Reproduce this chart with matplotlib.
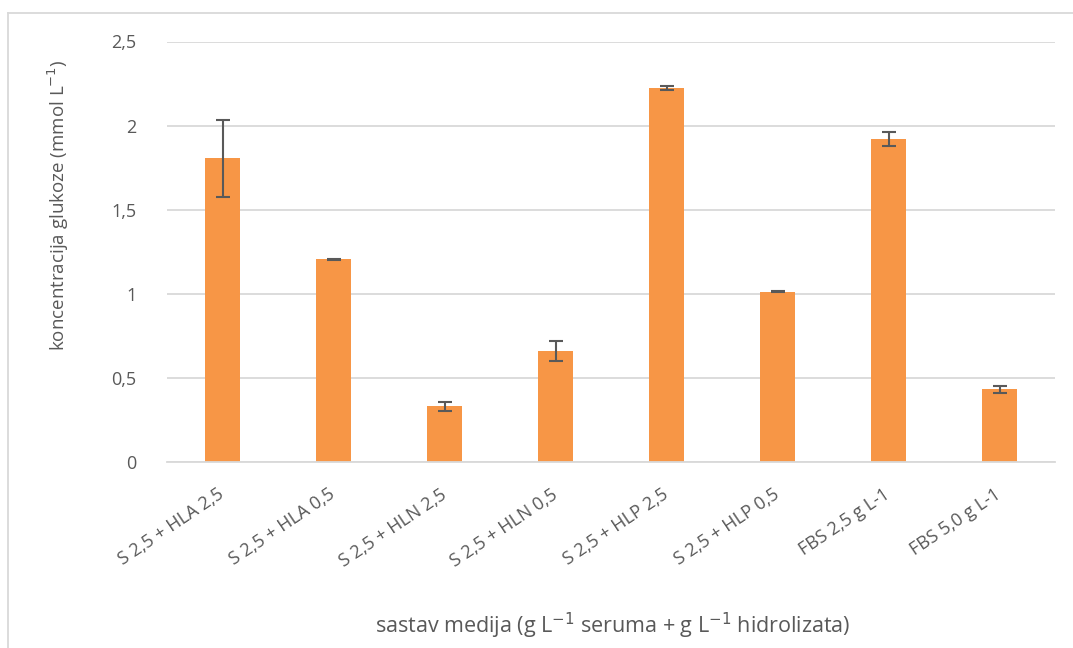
import matplotlib.pyplot as plt
from matplotlib.lines import Line2D

categories = ["S 2,5 + HLA 2,5", "S 2,5 + HLA 0,5", "S 2,5 + HLN 2,5", "S 2,5 + HLN 0,5",
              "S 2,5 + HLP 2,5", "S 2,5 + HLP 0,5", "FBS 2,5 g L-1", "FBS 5,0 g L-1"]
glucose = [1.806, 1.206, 0.334, 0.661, 2.224, 1.012, 1.921, 0.434]
errors = [0.228, 0.003, 0.027, 0.057, 0.013, 0.003, 0.044, 0.020]
yticks = [0, 0.5, 1, 1.5, 2, 2.5]
ytick_labels = ["0", "0,5", "1", "1,5", "2", "2,5"]

plt.rcParams['font.family'] = ['Open Sans', 'DejaVu Sans']
text_color = "#595959"

fig = plt.figure(figsize=(10.73, 6.48), dpi=100)
ax = fig.add_axes([167 / 1073, 1 - 462.3 / 648, 888 / 1073, 420.8 / 648])

x = range(len(categories))
ax.bar(x, glucose, width=0.315, color="#f79646", zorder=2)
ax.errorbar(x, glucose, yerr=errors, fmt="none", ecolor="#595959",
            elinewidth=1.5, capsize=5, capthick=1.5, zorder=3)

ax.set_xlim(-0.5, len(categories) - 0.5)
ax.set_ylim(0, 2.5)
ax.set_yticks(yticks)
ax.set_yticklabels(ytick_labels)
ax.set_xticks(list(x))
ax.set_xticklabels(categories, rotation=34, ha="right", va="center",
                   rotation_mode="anchor")
ax.tick_params(axis="x", length=0, pad=22, labelsize=13, labelcolor=text_color)
ax.tick_params(axis="y", length=0, pad=22, labelsize=13, labelcolor=text_color)
ax.grid(axis="y", color="#d9d9d9", linewidth=1.3, zorder=0)
for s in ["top", "right", "left"]:
    ax.spines[s].set_visible(False)
ax.spines["bottom"].set_color("#d9d9d9")
ax.spines["bottom"].set_linewidth(1.3)

fig.text(58 / 1073, 1 - 205 / 648, "koncentracija glukoze (mmol L$^{-1}$)",
         rotation=90, ha="center", va="center", fontsize=13.5, color=text_color)
fig.text(613 / 1073, 1 - 626 / 648,
         "sastav medija (g L$^{-1}$ seruma + g L$^{-1}$ hidrolizata)",
         ha="center", va="center", fontsize=15.5, color=text_color)

# chart area border (only top and left edges visible)
fig.add_artist(Line2D([7.5 / 1073, 1], [1 - 13 / 648, 1 - 13 / 648],
                      transform=fig.transFigure, color="#d9d9d9", linewidth=1.3))
fig.add_artist(Line2D([7.5 / 1073, 7.5 / 1073], [0, 1 - 13 / 648],
                      transform=fig.transFigure, color="#d9d9d9", linewidth=1.3))

fig.savefig("out.png", dpi=100)
